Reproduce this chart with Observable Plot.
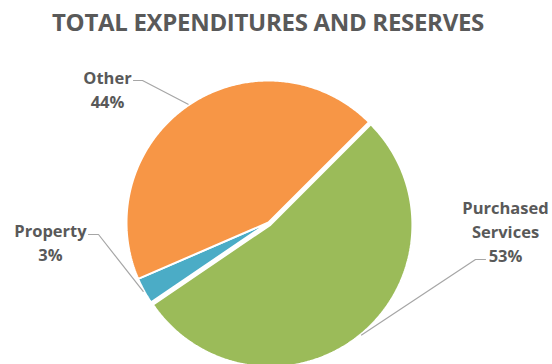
<!DOCTYPE html>
<html>
<head>
<meta charset="utf-8">
<script src="https://cdn.jsdelivr.net/npm/d3@7"></script>
<script src="https://cdn.jsdelivr.net/npm/@observablehq/plot@0.6"></script>
<style>
  html, body { margin: 0; padding: 0; background: #fff; }
  #title { width: 536px; padding-right: 16px; height: 44px; line-height: 44px; text-align: center;
    font-family: "Open Sans", sans-serif; font-weight: 700; font-size: 24px; color: #595959;
    letter-spacing: -0.3px; white-space: nowrap; }
  #chart svg { display: block; }
</style>
</head>
<body>
<div id="title">TOTAL EXPENDITURES AND RESERVES</div>
<div id="chart"></div>
<script>
// ---- data ----
const categories = ["Purchased Services", "Property", "Other"];
const values = [53, 3, 44];
const labelNames = [["Purchased", "Services"], ["Property"], ["Other"]];
const colors = ["#9BBB59", "#4BACC6", "#F79646"];

// ---- layout ----
const W = 552, H = 320;
const cx = 268, cy = 178, R = 142;
const startAngle = Math.PI / 4;
const explode = [3, 0, 0];
const labelPos = [[505, 186], [50, 196.5], [107, 44]];
const elbows = [[[485, 215], [475, 215]], [[88, 190], [98, 190]], [[133, 36], [142, 36]]];

const arcs = d3.pie().sort(null).startAngle(startAngle).endAngle(startAngle + 2 * Math.PI)(values);
const total = d3.sum(values);

const slicePts = [];
const leaderPts = [];
const labels = [];
arcs.forEach((a, i) => {
  const mid = (a.startAngle + a.endAngle) / 2;
  const ox = cx + explode[i] * Math.sin(mid), oy = cy - explode[i] * Math.cos(mid);
  const name = categories[i];
  slicePts.push({name, x: ox, y: oy});
  const n = Math.max(2, Math.ceil((a.endAngle - a.startAngle) / 0.01));
  for (let k = 0; k <= n; k++) {
    const t = a.startAngle + (a.endAngle - a.startAngle) * k / n;
    slicePts.push({name, x: ox + R * Math.sin(t), y: oy - R * Math.cos(t)});
  }
  elbows[i].forEach(([x, y]) => leaderPts.push({name, x, y}));
  leaderPts.push({name, x: ox + (R + 1) * Math.sin(mid), y: oy - (R + 1) * Math.cos(mid)});
  const pct = Math.round(values[i] / total * 100) + "%";
  labels.push({name, x: labelPos[i][0], y: labelPos[i][1], text: [...labelNames[i], pct].join("\n")});
});

const chart = Plot.plot({
  width: W, height: H, margin: 0,
  style: {fontFamily: "'Open Sans', sans-serif", background: "#fff"},
  x: {domain: [0, W], range: [0, W], axis: null},
  y: {domain: [0, H], range: [0, H], axis: null},
  color: {domain: categories, range: colors},
  marks: [
    Plot.line(slicePts, {x: "x", y: "y", z: "name", fill: "name", stroke: "white", strokeWidth: 2, curve: "linear-closed", strokeLinejoin: "miter"}),
    Plot.line(leaderPts, {x: "x", y: "y", z: "name", stroke: "#A6A6A6", strokeWidth: 1.2}),
    Plot.text(labels, {x: "x", y: "y", text: "text", fill: "#595959", fontSize: 16.5, fontWeight: "bold", lineHeight: 1.45})
  ]
});
document.getElementById("chart").appendChild(chart);
</script>
</body>
</html>
